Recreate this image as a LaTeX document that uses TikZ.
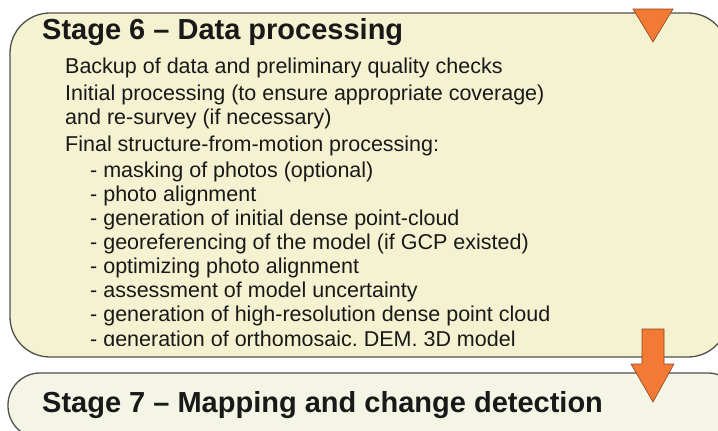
\documentclass[tikz,border=0pt]{standalone}
\usepackage{fontspec}
\setmainfont{Liberation Sans}
\definecolor{boxsix}{RGB}{244,242,208}
\definecolor{boxseven}{RGB}{245,245,230}
\definecolor{edge}{RGB}{80,80,75}
\definecolor{arrowfill}{RGB}{242,122,52}
\definecolor{arrowedge}{RGB}{140,70,30}
\definecolor{txt}{RGB}{25,25,25}
\tikzset{
  stagebox/.style={draw=edge, line width=1.3pt},
  titletext/.style={anchor=base west, inner sep=0pt, text=txt, font=\fontsize{29}{32}\selectfont\bfseries},
  bodytext/.style={anchor=base west, inner sep=0pt, text=txt, font=\fontsize{21.5}{24}\selectfont},
  flowarrow/.style={fill=arrowfill, draw=arrowedge, line width=0.6pt, line join=miter}
}
\begin{document}
\begin{tikzpicture}[x=1pt,y=-1pt]
\useasboundingbox (0,0) rectangle (718,431);
\clip (0,0) rectangle (718,431);
% stage 6 box
\draw[stagebox, fill=boxsix, rounded corners=40] (10,13) -- (728,13) -- (728,357) -- (10,357) -- cycle;
% stage 7 box
\draw[stagebox, fill=boxseven, rounded corners=32] (8,373) -- (740,373) -- (740,438) -- (8,438) -- cycle;
% titles
\node[titletext] (t6) at (42,39) {Stage 6 – Data processing};
\node[titletext] (t7) at (42,412) {Stage 7 – Mapping and change detection};
% body text
\begin{scope}
\clip (0,0) rectangle (718,345.5);
\node[bodytext] (l1) at (65,73) {Backup of data and preliminary quality checks};
\node[bodytext] (l2) at (65,100) {Initial processing (to ensure appropriate coverage)};
\node[bodytext] (l3) at (65,124) {and re-survey (if necessary)};
\node[bodytext] (l4) at (65,151) {Final structure-from-motion processing:};
\node[bodytext] (b1) at (90,177) {- masking of photos (optional)};
\node[bodytext] (b2) at (90,201) {- photo alignment};
\node[bodytext] (b3) at (90,225) {- generation of initial dense point-cloud};
\node[bodytext] (b4) at (90,249) {- georeferencing of the model (if GCP existed)};
\node[bodytext] (b5) at (90,273) {- optimizing photo alignment};
\node[bodytext] (b6) at (90,297) {- assessment of model uncertainty};
\node[bodytext] (b7) at (90,321) {- generation of high-resolution dense point cloud};
\node[bodytext] (b8) at (90,346) {- generation of orthomosaic, DEM, 3D model};
\end{scope}
% arrows
\draw[flowarrow] (633,9) -- (673,9) -- (653,42) -- cycle;
\draw[flowarrow] (642,329) -- (664,329) -- (664,364) -- (674,364) -- (653,402) -- (631,364) -- (642,364) -- cycle;
\end{tikzpicture}
\end{document}
